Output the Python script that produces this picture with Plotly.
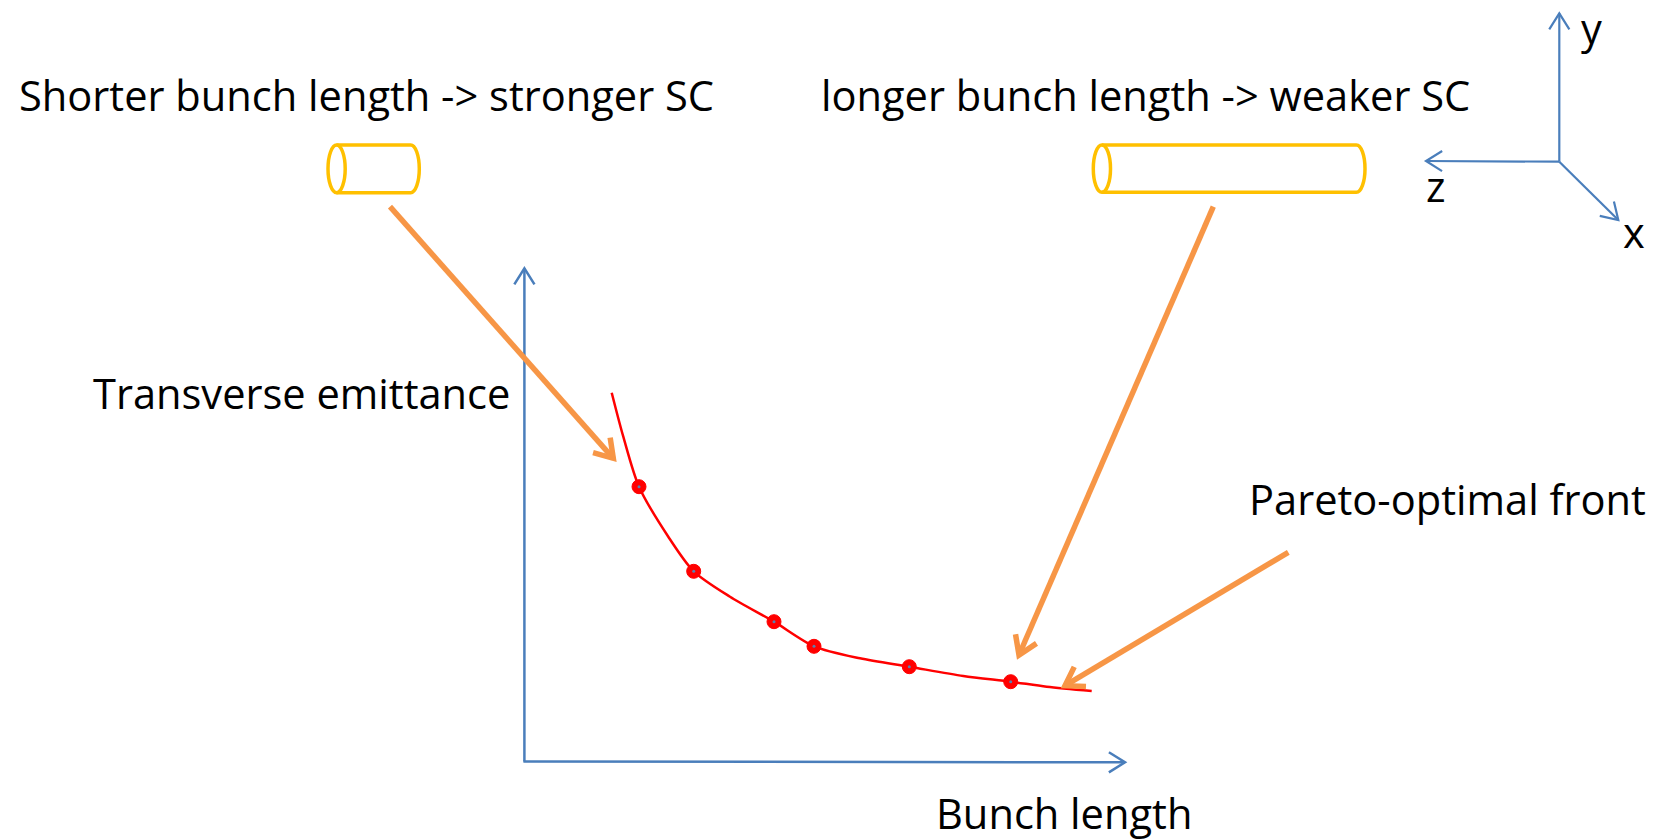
import math
import plotly.graph_objects as go

W, H = 1662, 840

# ---- diagram data (page pixel units) ----
curve_x = [611.7, 623.3, 639.0, 668.3, 693.7, 730.0, 774.0, 814.0, 860.0, 909.3, 963.3, 1010.7, 1046.7, 1091.7]
curve_y = [392.7, 436.7, 486.7, 536.7, 571.3, 596.7, 621.7, 646.3, 658.3, 666.7, 676.0, 681.7, 686.7, 691.0]
pareto_x = [639.0, 693.7, 774.0, 814.0, 909.3, 1010.7]
pareto_y = [486.7, 571.3, 621.7, 646.3, 666.7, 681.7]

axis_origin = (524.4, 761.5)
axis_y_tip = (524.4, 268.3)
axis_x_tip = (1125.0, 762.3)

coord_origin = (1559.3, 161.7)
coord_tips = {"y": (1559.3, 13.3), "z": (1426.0, 161.0), "x": (1618.3, 220.0)}
coord_labels = {"y": (1591, 28), "z": (1436, 186), "x": (1634, 232)}

orange_starts = [(390.0, 206.7), (1213.3, 206.7), (1288.3, 552.3)]
orange_tips = [(613.3, 458.3), (1019.0, 655.0), (1065.0, 685.7)]

cylinders = [  # left x, right x, top y, bottom y
    (328.0, 419.3, 145.0, 192.7),
    (1093.3, 1365.0, 145.0, 192.3),
]

labels = [
    ("Shorter bunch length -> stronger SC", 17, 95),
    ("longer bunch length -> weaker SC", 819, 95),
    ("Transverse emittance", 91, 393),
    ("Pareto-optimal front", 1247, 499),
    ("Bunch length", 934, 813),
]

BLUE = "#4a7ebb"
ORANGE = "#f79646"
YELLOW = "#ffc000"
RED = "#ff0000"
FONT = "Open Sans"
FS = 41.6

fig = go.Figure()
shapes = []


def line(p, q, color, width):
    shapes.append(dict(type="line", xref="x", yref="y", x0=p[0], y0=p[1], x1=q[0], y1=q[1],
                       line=dict(color=color, width=width)))


def chevron(start, tip, color, width, length, ang=32):
    dx, dy = start[0] - tip[0], start[1] - tip[1]
    n = math.hypot(dx, dy)
    ux, uy = dx / n, dy / n
    pts = []
    for s in (-1, 1):
        a = math.radians(ang) * s
        rx = ux * math.cos(a) - uy * math.sin(a)
        ry = ux * math.sin(a) + uy * math.cos(a)
        pts.append((tip[0] + rx * length, tip[1] + ry * length))
    path = f"M{pts[0][0]},{pts[0][1]} L{tip[0]},{tip[1]} L{pts[1][0]},{pts[1][1]}"
    shapes.append(dict(type="path", xref="x", yref="y", path=path,
                       line=dict(color=color, width=width)))


# main axes
line(axis_origin, axis_y_tip, BLUE, 2.5)
chevron(axis_origin, axis_y_tip, BLUE, 2.5, 19)
line((axis_origin[0] - 1, axis_origin[1]), axis_x_tip, BLUE, 2.5)
chevron(axis_origin, axis_x_tip, BLUE, 2.5, 19)

# coordinate system
for k, tip in coord_tips.items():
    line(coord_origin, tip, BLUE, 2.2)
    chevron(coord_origin, tip, BLUE, 2.2, 19)

# orange arrows
for s, t in zip(orange_starts, orange_tips):
    line(s, t, ORANGE, 5.5)
    chevron(s, t, ORANGE, 5.5, 21, ang=33)

# cylinders
K = 0.5523
for (xl, xr, yt, yb) in cylinders:
    ry = (yb - yt) / 2
    cy = (yt + yb) / 2
    rx = 8.6
    lc = xl + rx
    rc = xr - rx
    shapes.append(dict(type="circle", xref="x", yref="y", x0=xl, x1=xl + 2 * rx, y0=yt, y1=yb,
                       line=dict(color=YELLOW, width=3.5)))
    path = (f"M{lc},{yt} L{rc},{yt} "
            f"C{rc + K * rx},{yt} {xr},{cy - K * ry} {xr},{cy} "
            f"C{xr},{cy + K * ry} {rc + K * rx},{yb} {rc},{yb} L{lc},{yb}")
    shapes.append(dict(type="path", xref="x", yref="y", path=path,
                       line=dict(color=YELLOW, width=3.5)))

# Pareto curve and points
fig.add_trace(go.Scatter(x=curve_x, y=curve_y, mode="lines",
                         line=dict(color=RED, width=2.5, shape="spline", smoothing=0.8),
                         hoverinfo="skip", showlegend=False))
fig.add_trace(go.Scatter(x=pareto_x, y=pareto_y, mode="markers",
                         marker=dict(color=RED, size=14, line=dict(color=RED, width=1)),
                         hoverinfo="skip", showlegend=False))
fig.add_trace(go.Scatter(x=pareto_x, y=pareto_y, mode="markers",
                         marker=dict(color="#5b7fae", size=3, line=dict(width=0)),
                         hoverinfo="skip", showlegend=False))

annotations = []
for text, x, y in labels:
    annotations.append(dict(text=text, x=x, y=y, xref="x", yref="y", xanchor="left", yanchor="middle",
                            showarrow=False, font=dict(family=FONT, size=FS, color="#000000")))
for k, (x, y) in coord_labels.items():
    annotations.append(dict(text=k, x=x, y=y, xref="x", yref="y", xanchor="center", yanchor="middle",
                            showarrow=False, font=dict(family=FONT, size=FS, color="#000000")))

fig.update_layout(
    width=W, height=H,
    margin=dict(l=0, r=0, t=0, b=0),
    paper_bgcolor="white", plot_bgcolor="white",
    xaxis=dict(range=[0, W], visible=False, fixedrange=True),
    yaxis=dict(range=[H, 0], visible=False, fixedrange=True),
    shapes=shapes, annotations=annotations,
    showlegend=False,
)

fig.write_html("out.html", config={"displayModeBar": False},
               post_script="document.body.style.margin='0px';document.body.style.overflow='hidden';")
